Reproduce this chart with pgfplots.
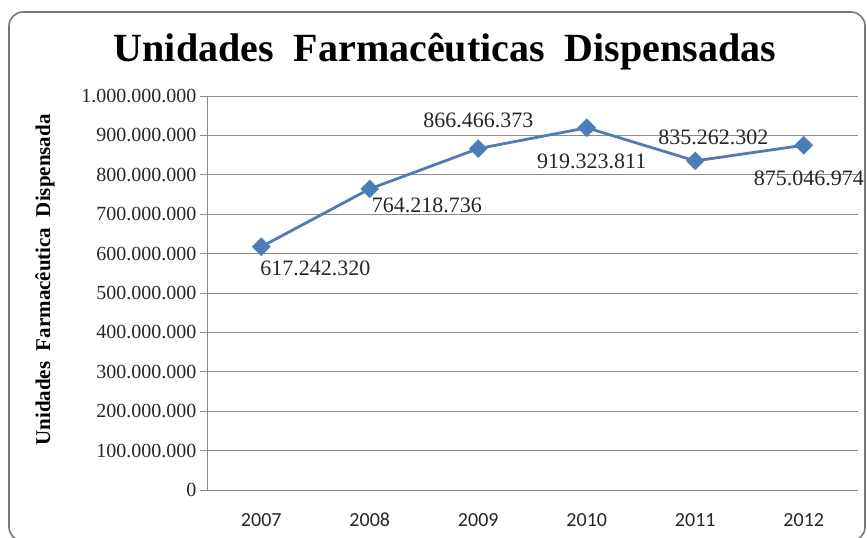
\documentclass[border=0pt]{standalone}
\usepackage{pgfplots}
\pgfplotsset{compat=1.18}
\usepackage{fontspec}
\setmainfont{Liberation Serif}
\newfontfamily\calibri{Carlito}
\definecolor{ser}{RGB}{74,126,187}
\definecolor{grd}{RGB}{140,140,140}
\definecolor{brd}{RGB}{120,120,120}
\pgfplotstableread{
x y
0 617242320
1 764218736
2 866466373
3 919323811
4 835262302
5 875046974
}\datatab
\pgfplotstableread{
x y dx dy lab
0 617242320 54 -22 617.242.320
1 764218736 57 -16 764.218.736
2 866466373 0 28 866.466.373
3 919323811 5 -34 919.323.811
4 835262302 18 24 835.262.302
5 875046974 5 -33 875.046.974
}\labtab
\begin{document}
\begin{tikzpicture}[x=1bp,y=1bp]
\useasboundingbox (0,0) rectangle (867,538);
\draw[rounded corners=14bp, line width=1.6bp, draw=brd] (9,-3) rectangle (865,526);
\node[anchor=base, font=\fontsize{40bp}{44bp}\selectfont\bfseries] at (445,476) {Unidades\ \ Farmacêuticas\ \ Dispensadas};
\node[rotate=90, font=\fontsize{21bp}{25bp}\selectfont\bfseries] at (45,258) {Unidades\ \ Farmacêutica\ \ Dispensada};
\begin{axis}[
  at={(207bp,48bp)}, anchor=south west,
  scale only axis, width=651bp, height=394bp,
  xmin=-0.5, xmax=5.5, ymin=0, ymax=1000000000,
  clip=false,
  axis lines*=left,
  axis line style={grd, line width=0.8bp},
  ymajorgrids, grid style={grd, line width=0.8bp},
  ytick={0,100000000,200000000,300000000,400000000,500000000,600000000,700000000,800000000,900000000,1000000000},
  scaled y ticks=false,
  /pgf/number format/fixed, /pgf/number format/precision=0,
  /pgf/number format/1000 sep={.},
  /pgf/number format/assume math mode=true,
  yticklabel style={font=\rmfamily\fontsize{20bp}{24bp}\selectfont, text=black!85},
  tick align=outside,
  major tick length=7bp,
  minor tick length=8bp,
  ytick style={grd, line width=0.8bp},
  xtick={0,1,2,3,4,5},
  xticklabels={2007,2008,2009,2010,2011,2012},
  xtick style={draw=none},
  minor xtick={-0.5,0.5,1.5,2.5,3.5,4.5,5.5},
  minor x tick style={grd, line width=0.8bp},
  xticklabel style={font=\calibri\fontsize{20bp}{24bp}\selectfont, text=black!85, anchor=base, yshift=-30bp},
]
\addplot[ser, line width=2.8bp, mark=square*, mark size=5.2bp, mark options={solid, fill=ser, rotate=45}] table[x=x, y=y] {\datatab};
\addplot[draw=none, mark=none, nodes near coords, point meta=explicit symbolic,
  visualization depends on={\thisrow{dx} \as \dx},
  visualization depends on={\thisrow{dy} \as \dy},
  nodes near coords style={anchor=center, xshift={\dx*1bp}, yshift={\dy*1bp}, font=\rmfamily\fontsize{22bp}{26bp}\selectfont, text=black!85, inner sep=0pt}]
  table[x=x, y=y, meta=lab] {\labtab};
\end{axis}
\end{tikzpicture}
\end{document}
